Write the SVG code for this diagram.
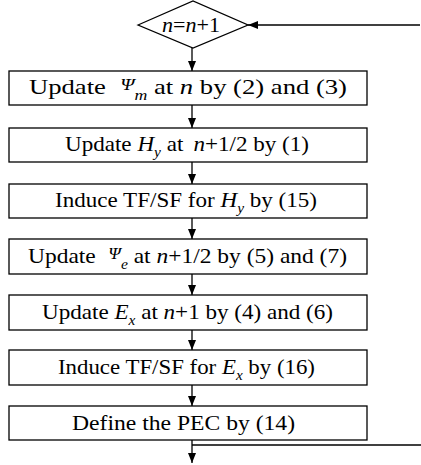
<svg xmlns="http://www.w3.org/2000/svg" width="421" height="465" viewBox="0 0 421 465">
<style>
.box{fill:#fff;stroke:#000;stroke-width:1.3}
.t{font-family:"Liberation Serif","Times New Roman",Times,serif;font-size:21px;fill:#000;text-anchor:middle}
.i{font-style:italic}
.sub{font-size:14px;font-style:italic}
.psi{font-size:16px;font-style:italic}
.c{stroke:#000;stroke-width:1.3;fill:none}
</style>
<defs>
<marker id="ah" viewBox="0 0 10 8" markerWidth="10" markerHeight="8" refX="10" refY="4" orient="auto" markerUnits="userSpaceOnUse"><path d="M0,0 L10,4 L0,8 z" fill="#000"/></marker>
</defs>
<g id="connectors">
<path class="c" d="M420,25 H248" marker-end="url(#ah)"/>
<path class="c" d="M192,47 V71" marker-end="url(#ah)"/>
<path class="c" d="M192,105 V128" marker-end="url(#ah)"/>
<path class="c" d="M192,162 V184" marker-end="url(#ah)"/>
<path class="c" d="M192,218 V239" marker-end="url(#ah)"/>
<path class="c" d="M192,274 V295" marker-end="url(#ah)"/>
<path class="c" d="M192,330 V350" marker-end="url(#ah)"/>
<path class="c" d="M192,385 V406" marker-end="url(#ah)"/>
<path class="c" d="M192,440 V463" marker-end="url(#ah)"/>
<path class="c" d="M192,445 H421"/>
</g>
<g id="n0">
<polygon class="box" points="138,25 193,1 248,25 193,48"/>
<text class="t" x="191" y="32" textLength="58" lengthAdjust="spacingAndGlyphs"><tspan class="i">n</tspan>=<tspan class="i">n</tspan>+1</text>
</g>
<g id="n1">
<rect class="box" x="9" y="71" width="358" height="34"/>
<text class="t" x="188" y="94" textLength="318" lengthAdjust="spacingAndGlyphs">Update <tspan dx="6" dy="-4" class="psi">Ψ</tspan><tspan class="sub" dy="10">m</tspan><tspan dy="-6"> at </tspan><tspan class="i">n</tspan> by (2) and (3)</text>
</g>
<g id="n2">
<rect class="box" x="9" y="128" width="358" height="34"/>
<text class="t" x="187" y="151" textLength="244" lengthAdjust="spacingAndGlyphs">Update <tspan class="i">H</tspan><tspan class="sub" dy="6">y</tspan><tspan dy="-6"> at </tspan><tspan class="i" dx="4">n</tspan>+1/2 by (1)</text>
</g>
<g id="n3">
<rect class="box" x="9" y="184" width="358" height="34"/>
<text class="t" x="186" y="207" textLength="262" lengthAdjust="spacingAndGlyphs">Induce TF/SF for <tspan class="i">H</tspan><tspan class="sub" dy="6">y</tspan><tspan dy="-6"> by (15)</tspan></text>
</g>
<g id="n4">
<rect class="box" x="9" y="239" width="358" height="35"/>
<text class="t" x="187.5" y="263" textLength="319" lengthAdjust="spacingAndGlyphs">Update <tspan dx="6" dy="-4" class="psi">Ψ</tspan><tspan class="sub" dy="10">e</tspan><tspan dy="-6"> at </tspan><tspan class="i">n</tspan>+1/2 by (5) and (7)</text>
</g>
<g id="n5">
<rect class="box" x="9" y="295" width="358" height="35"/>
<text class="t" x="187.5" y="319" textLength="291" lengthAdjust="spacingAndGlyphs">Update <tspan class="i">E</tspan><tspan class="sub" dy="6">x</tspan><tspan dy="-6"> at </tspan><tspan class="i">n</tspan>+1 by (4) and (6)</text>
</g>
<g id="n6">
<rect class="box" x="9" y="350" width="358" height="35"/>
<text class="t" x="186.5" y="374" textLength="257" lengthAdjust="spacingAndGlyphs">Induce TF/SF for <tspan class="i">E</tspan><tspan class="sub" dy="6">x</tspan><tspan dy="-6"> by (16)</tspan></text>
</g>
<g id="n7">
<rect class="box" x="9" y="406" width="358" height="34"/>
<text class="t" x="183.5" y="430" textLength="223" lengthAdjust="spacingAndGlyphs">Define the PEC by (14)</text>
</g>
</svg>
